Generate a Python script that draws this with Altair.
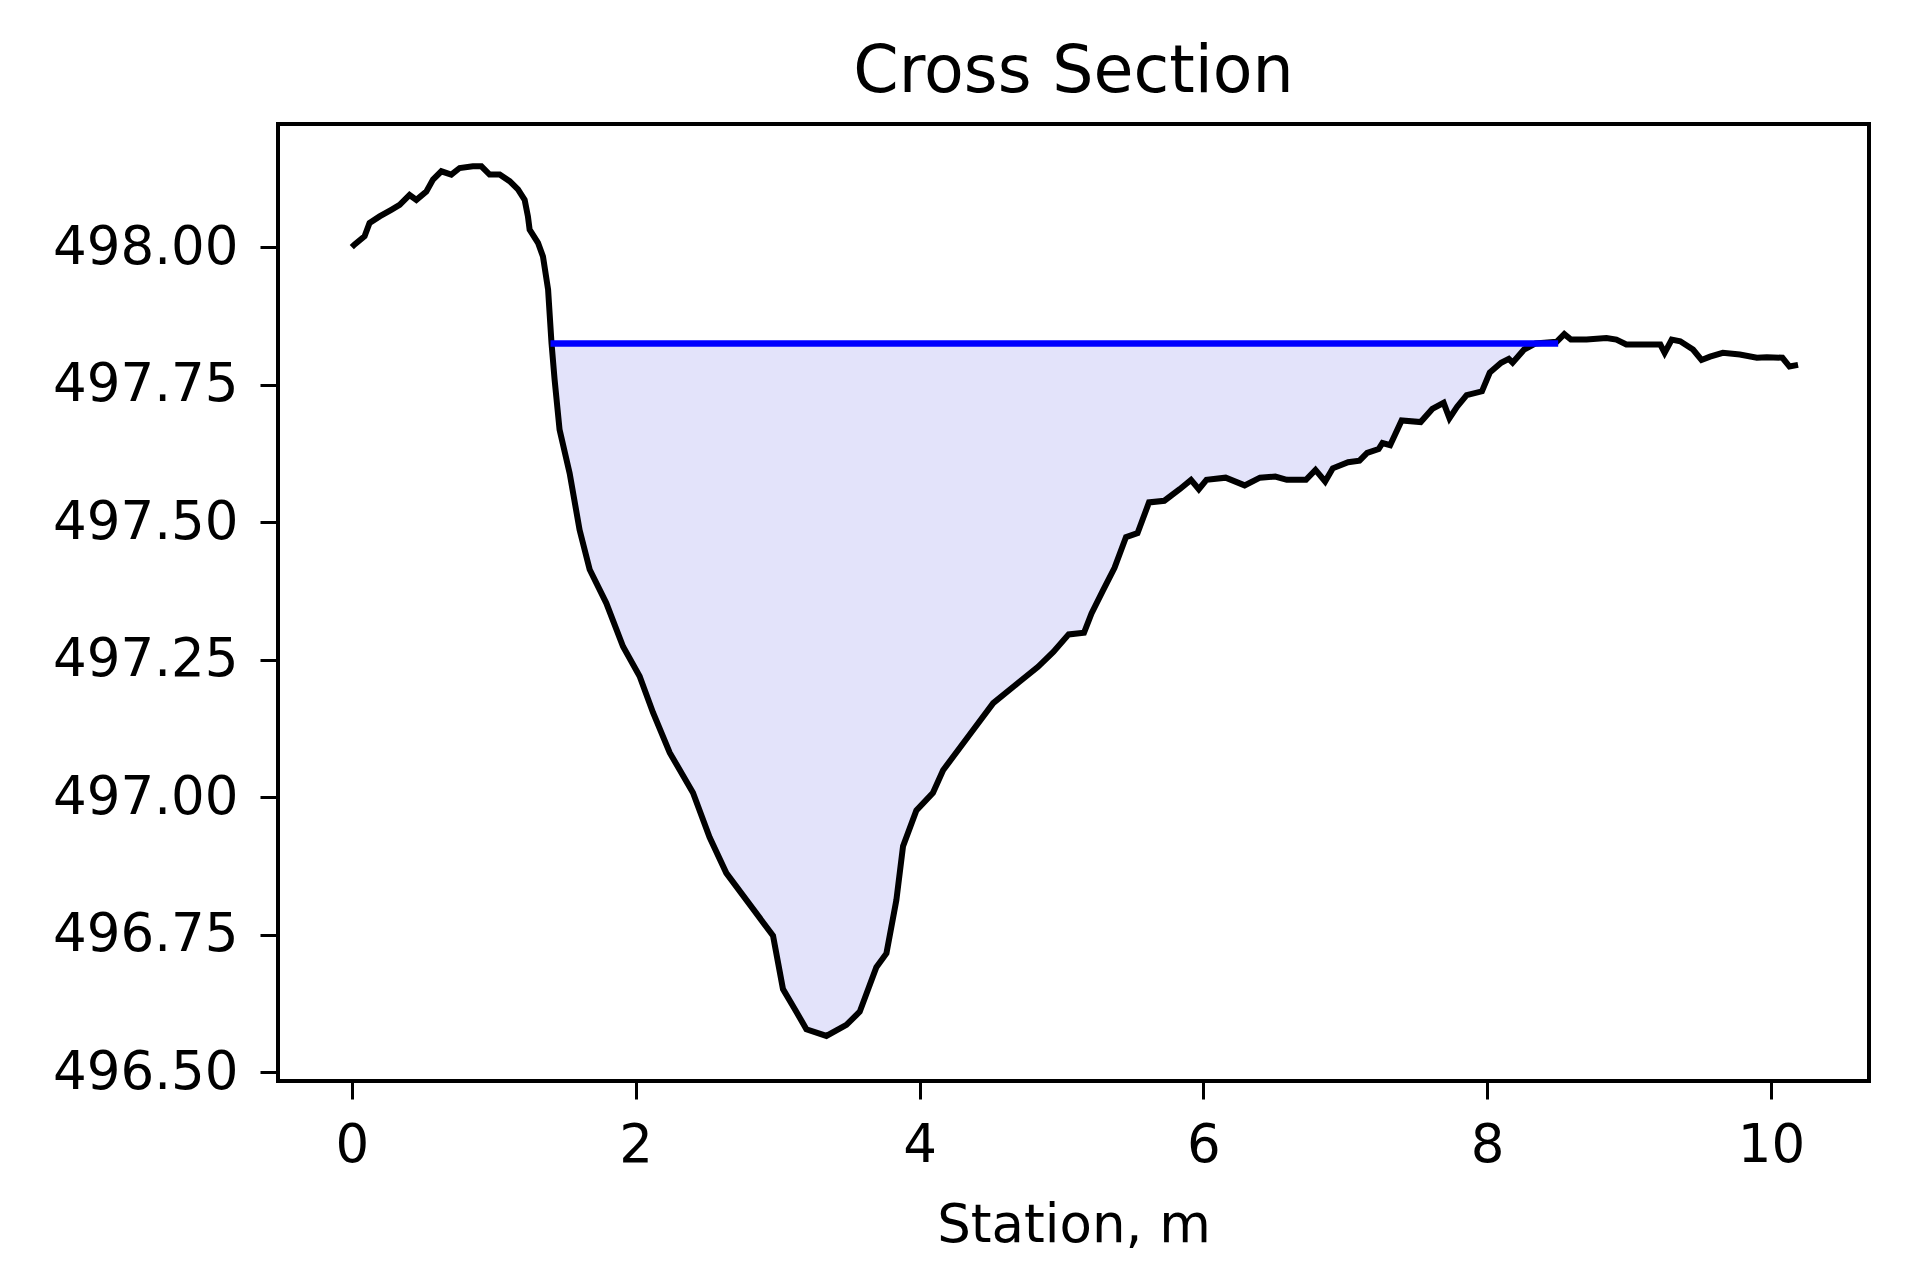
import altair as alt
import pandas as pd

# Ground profile (station in m, elevation)
station = [0.00, 0.02, 0.09, 0.125, 0.196, 0.278, 0.337, 0.407, 0.455, 0.525,
           0.572, 0.631, 0.701, 0.760, 0.853, 0.913, 0.971, 1.042, 1.112, 1.171,
           1.218, 1.241, 1.253, 1.312, 1.347, 1.383, 1.407, 1.429, 1.464, 1.535,
           1.605, 1.676, 1.793, 1.911, 2.028, 2.122, 2.240, 2.404, 2.521, 2.639,
           2.827, 2.968, 3.038, 3.132, 3.203, 3.344, 3.485, 3.579, 3.696, 3.767,
           3.837, 3.884, 3.978, 4.095, 4.166, 4.354, 4.519, 4.700, 4.835, 4.943,
           5.051, 5.159, 5.212, 5.293, 5.374, 5.455, 5.536, 5.617, 5.725, 5.833,
           5.913, 5.968, 6.022, 6.157, 6.291, 6.399, 6.507, 6.588, 6.723, 6.790,
           6.858, 6.912, 7.020, 7.100, 7.154, 7.235, 7.262, 7.316, 7.397, 7.531,
           7.613, 7.693, 7.734, 7.788, 7.855, 7.963, 8.018, 8.098, 8.152, 8.179,
           8.260, 8.341, 8.489, 8.543, 8.590, 8.700, 8.840, 8.910, 8.980, 9.120,
           9.220, 9.250, 9.300, 9.360, 9.450, 9.510, 9.570, 9.660, 9.780, 9.900,
           9.970, 10.080, 10.130, 10.190]
elevation = [498.000, 498.005, 498.020, 498.044, 498.056, 498.068, 498.077, 498.095, 498.086, 498.101,
             498.123, 498.138, 498.132, 498.144, 498.147, 498.147, 498.132, 498.132, 498.120, 498.105,
             498.086, 498.056, 498.032, 498.008, 497.983, 497.923, 497.826, 497.759, 497.668, 497.589,
             497.486, 497.414, 497.353, 497.274, 497.220, 497.154, 497.081, 497.008, 496.927, 496.862,
             496.797, 496.748, 496.651, 496.610, 496.578, 496.566, 496.586, 496.610, 496.691, 496.716,
             496.813, 496.911, 496.976, 497.008, 497.049, 497.114, 497.171, 497.209, 497.237, 497.264,
             497.296, 497.299, 497.334, 497.376, 497.417, 497.473, 497.480, 497.536, 497.539, 497.560,
             497.577, 497.560, 497.577, 497.581, 497.567, 497.581, 497.583, 497.577, 497.577, 497.595,
             497.574, 497.598, 497.609, 497.612, 497.626, 497.633, 497.644, 497.640, 497.685, 497.682,
             497.706, 497.717, 497.689, 497.710, 497.731, 497.738, 497.772, 497.790, 497.797, 497.790,
             497.814, 497.825, 497.828, 497.842, 497.832, 497.832, 497.835, 497.832, 497.823, 497.823,
             497.823, 497.808, 497.832, 497.829, 497.814, 497.795, 497.801, 497.808, 497.805, 497.799,
             497.800, 497.799, 497.783, 497.786]

# Water surface
wse = 497.825
wet_start = 1.40
wet_end = 8.50

x_ticks = [0, 2, 4, 6, 8, 10]
y_ticks = [496.50, 496.75, 497.00, 497.25, 497.50, 497.75, 498.00]

ground = pd.DataFrame({"station": station, "elev": elevation})

wet_x = [wet_start] + [s for s in station if wet_start < s < wet_end] + [wet_end]
wet_y = [wse] + [min(e, wse) for s, e in zip(station, elevation) if wet_start < s < wet_end] + [wse]
wet = pd.DataFrame({"station": wet_x, "elev": wet_y, "wse": [wse] * len(wet_x)})

water = pd.DataFrame({"x1": [wet_start], "x2": [wet_end], "wse": [wse]})

FONT = "DejaVu Sans"
xscale = alt.Scale(domain=[-0.52, 10.69], nice=False, zero=False)
yscale = alt.Scale(domain=[496.484, 498.224], nice=False, zero=False)

xaxis = alt.Axis(values=x_ticks, format="d", title="Station, m", titleFontSize=53,
                 titleFont=FONT, titleFontWeight="normal", titleColor="black",
                 titleY=160, titleBaseline="alphabetic",
                 labelFont=FONT, labelFontSize=53, labelColor="black", labelPadding=20,
                 labelLimit=1000,
                 tickSize=18, tickWidth=3, tickColor="black", domain=False, grid=False)
yaxis = alt.Axis(values=y_ticks, format=".2f", title=None,
                 labelFont=FONT, labelFontSize=53, labelColor="black", labelPadding=22,
                 labelLimit=1000,
                 tickSize=18, tickWidth=3, tickColor="black", domain=False, grid=False)

area = alt.Chart(wet).mark_area(color="#e3e3fa", opacity=1).encode(
    x=alt.X("station:Q", scale=xscale, axis=xaxis),
    y=alt.Y("elev:Q", scale=yscale, axis=yaxis),
    y2="wse:Q",
)

line = alt.Chart(ground).mark_line(color="black", strokeWidth=6).encode(
    x=alt.X("station:Q", scale=xscale),
    y=alt.Y("elev:Q", scale=yscale),
)

rule = alt.Chart(water).mark_rule(color="#0000ff", strokeWidth=6.5).encode(
    x=alt.X("x1:Q", scale=xscale),
    x2="x2:Q",
    y=alt.Y("wse:Q", scale=yscale),
)

chart = alt.layer(area, line, rule).properties(
    width=1591,
    height=957,
    background="white",
    autosize=alt.AutoSizeParams(type="none"),
    padding={"left": 270, "top": 116, "right": 40, "bottom": 180},
    title=alt.TitleParams("Cross Section", font=FONT, fontSize=65, fontWeight="normal",
                          color="black", offset=32, baseline="alphabetic",
                          anchor="middle", frame="group", dy=65),
).configure_view(stroke="black", strokeWidth=4)

chart.save("out.html", embed_options={"renderer": "svg", "actions": False})
